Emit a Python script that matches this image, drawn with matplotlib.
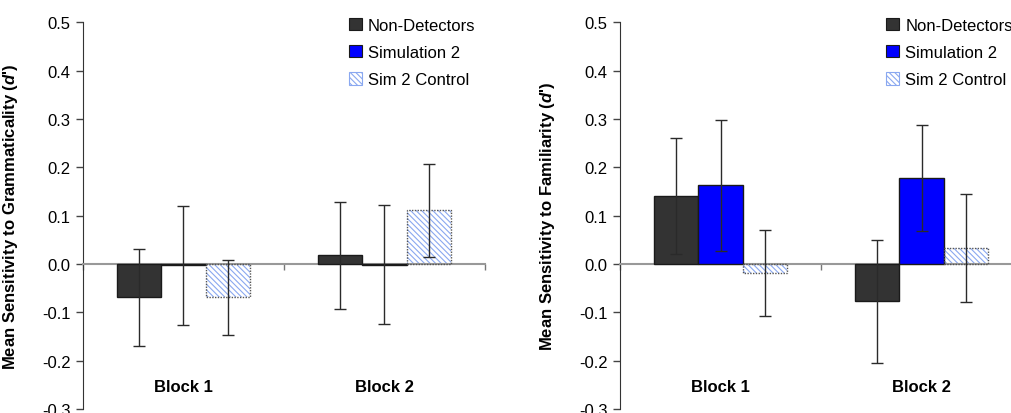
import matplotlib
matplotlib.use('Agg')
import matplotlib.pyplot as plt
import matplotlib.transforms as mtransforms
import numpy as np

plt.rcParams['font.family'] = ['Liberation Sans', 'DejaVu Sans']
plt.rcParams['mathtext.fontset'] = 'custom'
plt.rcParams['mathtext.it'] = 'Liberation Sans:bold:italic'
plt.rcParams['hatch.linewidth'] = 0.8

blocks = ['Block 1', 'Block 2']
groups = ['Non-Detectors', 'Simulation 2', 'Sim 2 Control']

# grammaticality d' (mean, error) per group, block 1 / block 2
gram_means = {'Non-Detectors': [-0.069, 0.018],
              'Simulation 2': [-0.003, -0.001],
              'Sim 2 Control': [-0.069, 0.111]}
gram_errs = {'Non-Detectors': [0.100, 0.111],
             'Simulation 2': [0.124, 0.123],
             'Sim 2 Control': [0.078, 0.096]}

# familiarity d'
fam_means = {'Non-Detectors': [0.140, -0.077],
             'Simulation 2': [0.163, 0.178],
             'Sim 2 Control': [-0.018, 0.033]}
fam_errs = {'Non-Detectors': [0.120, 0.127],
            'Simulation 2': [0.135, 0.110],
            'Sim 2 Control': [0.089, 0.112]}

face = {'Non-Detectors': '#333333', 'Simulation 2': '#0000ff', 'Sim 2 Control': 'white'}
width = 0.222


def draw_panel(ax, means, errs, ylabel):
    x = np.arange(len(blocks))
    for i, g in enumerate(groups):
        pos = x + (i - 1) * width
        if g == 'Sim 2 Control':
            ax.bar(pos, means[g], width, color='white', edgecolor='#8aa8f0',
                   hatch='\\\\\\\\\\\\', linewidth=0, zorder=2)
            ax.bar(pos, means[g], width, facecolor='none', edgecolor='#555555',
                   linewidth=1, linestyle=(0, (1, 1)), zorder=3)
        else:
            ax.bar(pos, means[g], width, color=face[g], edgecolor='#1a1a1a',
                   linewidth=1, zorder=3)
        ax.errorbar(pos, means[g], yerr=errs[g], fmt='none', ecolor='#2a2a2a',
                    elinewidth=1, capsize=4, capthick=1, zorder=4)

    ax.set_xlim(-0.5, 1.5)
    ax.set_ylim(-0.3, 0.5)
    ticks = np.arange(-0.3, 0.51, 0.1)
    ax.set_yticks(ticks)
    ax.set_yticklabels(['%.1f' % v for v in ticks], fontsize=12)
    ax.tick_params(axis='y', direction='out', length=5, width=1, color='#444444', pad=4)

    ax.spines['top'].set_visible(False)
    ax.spines['right'].set_visible(False)
    ax.spines['left'].set_color('#333333')
    ax.spines['bottom'].set_position(('data', 0))
    ax.spines['bottom'].set_color('#999999')
    ax.spines['bottom'].set_linewidth(1.5)
    ax.set_xticks([-0.5, 0.5, 1.5])
    ax.set_xticklabels([])
    ax.tick_params(axis='x', direction='out', length=4, width=1, color='#777777')

    trans = mtransforms.blended_transform_factory(ax.transData, ax.transAxes)
    for xi, b in zip(x, blocks):
        ax.text(xi, 0.057, b, transform=trans, ha='center', va='center',
                fontsize=12, fontweight='bold')

    ax.set_ylabel(ylabel, fontsize=12, fontweight='bold')
    ax.yaxis.set_label_coords(-0.157, 0.5)

    leg_handles = []
    for g in groups:
        if g == 'Sim 2 Control':
            leg_handles.append(plt.Rectangle((0, 0), 1, 1, facecolor='white',
                                             edgecolor='#8aa8f0', hatch='\\\\\\\\\\\\',
                                             linewidth=0.8))
        else:
            leg_handles.append(plt.Rectangle((0, 0), 1, 1, facecolor=face[g],
                                             edgecolor='#1a1a1a', linewidth=0.8))
    ax.legend(leg_handles, groups, loc='upper left', bbox_to_anchor=(0.645, 1.03),
              frameon=False, fontsize=12, handlelength=0.8, handleheight=0.8,
              handletextpad=0.35, labelspacing=0.72, borderaxespad=0)


fig = plt.figure(figsize=(10.11, 4.14), dpi=100)
ax1 = fig.add_axes([0.0821, 0.0097, 0.3976, 0.9336])
ax2 = fig.add_axes([0.6133, 0.0097, 0.3976, 0.9336])

draw_panel(ax1, gram_means, gram_errs, "Mean Sensitivity to Grammaticality ($d$')")
draw_panel(ax2, fam_means, fam_errs, "Mean Sensitivity to Familiarity ($d$')")

fig.savefig('out.png', dpi=100)
